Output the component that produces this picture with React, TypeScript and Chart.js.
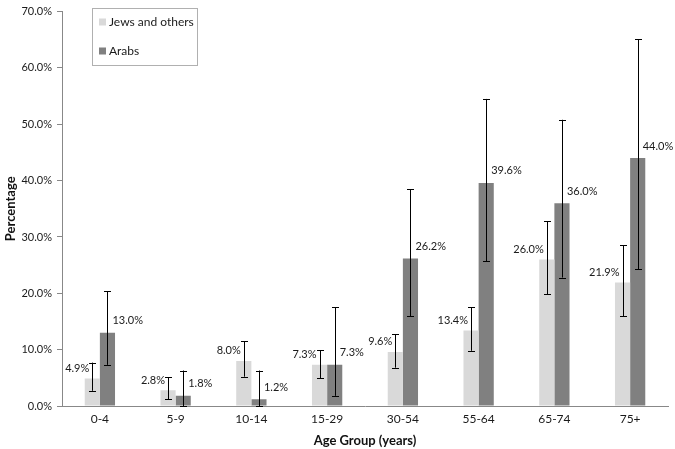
import React, { useEffect, useRef } from "react";
import { Chart, registerables } from "chart.js";

Chart.register(...registerables);

const categories = ["0-4", "5-9", "10-14", "15-29", "30-54", "55-64", "65-74", "75+"];
const jewsValues = [4.9, 2.8, 8.0, 7.3, 9.6, 13.4, 26.0, 21.9];
const arabsValues = [13.0, 1.8, 1.2, 7.3, 26.2, 39.6, 36.0, 44.0];
const jewsLow = [2.7, 1.2, 5.2, 4.9, 6.8, 9.8, 19.8, 15.9];
const jewsHigh = [7.7, 5.1, 11.5, 9.9, 12.7, 17.5, 32.8, 28.5];
const arabsLow = [7.3, 0.0, 0.0, 1.8, 15.9, 25.7, 22.8, 24.3];
const arabsHigh = [20.4, 6.3, 6.3, 17.5, 38.5, 54.5, 50.8, 65.1];
const seriesNames = ["Jews and others", "Arabs"];
const seriesColors = ["#d9d9d9", "#808080"];

const FONT = "Lato, 'Liberation Sans', sans-serif";

const errorBarsPlugin = {
  id: "errorBars",
  afterDatasetsDraw(chart: any) {
    const ctx = chart.ctx;
    const y = chart.scales.y;
    const sets = [
      [jewsLow, jewsHigh],
      [arabsLow, arabsHigh],
    ];
    ctx.save();
    ctx.strokeStyle = "#000";
    ctx.lineWidth = 1;
    sets.forEach((s, di) => {
      const meta = chart.getDatasetMeta(di);
      meta.data.forEach((bar: any, i: number) => {
        const x = Math.round(bar.x) + 0.5;
        const yl = y.getPixelForValue(s[0][i]);
        const yh = y.getPixelForValue(s[1][i]);
        ctx.beginPath();
        ctx.moveTo(x, yl);
        ctx.lineTo(x, yh);
        ctx.moveTo(x - 3.5, Math.round(yl) + 0.5);
        ctx.lineTo(x + 3.5, Math.round(yl) + 0.5);
        ctx.moveTo(x - 3.5, Math.round(yh) + 0.5);
        ctx.lineTo(x + 3.5, Math.round(yh) + 0.5);
        ctx.stroke();
      });
    });
    // value labels
    ctx.fillStyle = "#1a1a1a";
    ctx.font = `11px ${FONT}`;
    ctx.textBaseline = "middle";
    const j = chart.getDatasetMeta(0);
    j.data.forEach((bar: any, i: number) => {
      ctx.textAlign = "right";
      ctx.fillText(`${jewsValues[i].toFixed(1)}%`, bar.x - 3, bar.y - 10);
    });
    const a = chart.getDatasetMeta(1);
    a.data.forEach((bar: any, i: number) => {
      ctx.textAlign = "left";
      ctx.fillText(`${arabsValues[i].toFixed(1)}%`, bar.x + 5, bar.y - 12);
    });
    // legend
    ctx.strokeStyle = "#b0b0b0";
    ctx.strokeRect(92.5, 8.5, 105, 57);
    ctx.font = `12px ${FONT}`;
    ctx.textAlign = "left";
    seriesNames.forEach((n, k) => {
      const cy = k === 0 ? 22 : 51;
      ctx.fillStyle = seriesColors[k];
      ctx.fillRect(99, cy - 3.5, 7, 7);
      ctx.fillStyle = "#1a1a1a";
      ctx.fillText(n, 109, cy);
    });
    ctx.restore();
  },
};

export default function App() {
  const ref = useRef<HTMLCanvasElement>(null);
  useEffect(() => {
    document.body.style.margin = "0";
    const chart = new Chart(ref.current!, {
      type: "bar",
      data: {
        labels: categories,
        datasets: [
          { label: seriesNames[0], data: jewsValues, backgroundColor: seriesColors[0], categoryPercentage: 0.4, barPercentage: 1.0 },
          { label: seriesNames[1], data: arabsValues, backgroundColor: seriesColors[1], categoryPercentage: 0.4, barPercentage: 1.0 },
        ],
      },
      options: {
        responsive: false,
        animation: false,
        layout: { padding: { left: 0, right: 7, top: 5, bottom: 0 } },
        plugins: { legend: { display: false }, tooltip: { enabled: false } },
        scales: {
          x: {
            grid: { display: false, drawTicks: false },
            border: { color: "#888", width: 1 },
            ticks: { color: "#1a1a1a", font: { family: FONT, size: 12 }, padding: 6 },
            title: { display: true, text: "Age Group (years)", color: "#111", font: { family: FONT, size: 13, weight: "bold" }, padding: { top: 4, bottom: 0 } },
            afterFit: (s: any) => { s.height = 43; },
          },
          y: {
            min: 0,
            max: 70,
            ticks: { stepSize: 10, color: "#1a1a1a", font: { family: FONT, size: 11 }, padding: 5, callback: (v: any) => `${Number(v).toFixed(1)}%` },
            grid: { drawOnChartArea: false, tickLength: 5, color: "#888" },
            border: { color: "#888", width: 1 },
            title: { display: true, text: "Percentage", color: "#111", font: { family: FONT, size: 13, weight: "bold" }, padding: { top: 3, bottom: 4 } },
            afterFit: (s: any) => { s.width = 62; },
          },
        },
      },
      plugins: [errorBarsPlugin],
    });
    return () => chart.destroy();
  }, []);
  return (
    <div style={{ position: "fixed", left: 0, top: 0, width: 675, height: 449, background: "#fff" }}>
      <canvas ref={ref} width={675} height={449} />
    </div>
  );
}
